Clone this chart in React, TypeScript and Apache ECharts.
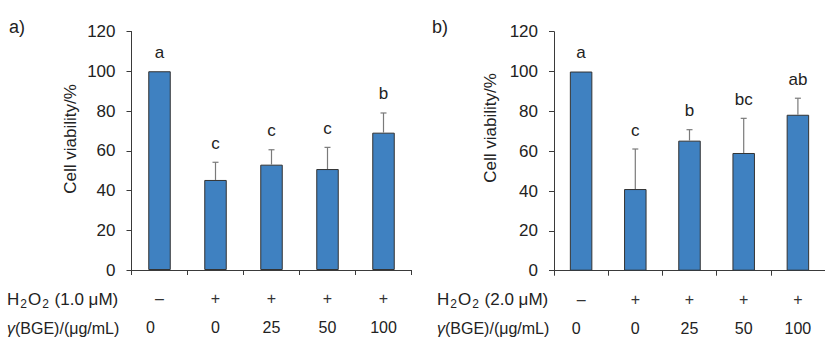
import React, { useEffect, useRef } from "react";
import * as echarts from "echarts";

const h2o2Signs = ["–", "+", "+", "+", "+"];
const concentrations = ["0", "0", "25", "50", "100"];
const yTicksMin = 0;
const yTicksMax = 120;
const yTicksInterval = 20;

const viabilityA = [100, 45.3, 53.0, 50.8, 69.1];
const errorA = [0, 8.9, 7.5, 10.9, 9.9];
const lettersA = ["a", "c", "c", "c", "b"];

const viabilityB = [100, 41.0, 65.3, 59.1, 78.3];
const errorB = [0, 20.1, 5.5, 17.4, 8.3];
const lettersB = ["a", "c", "b", "bc", "ab"];

const FONT = "Liberation Sans, Arial, sans-serif";
const TXT = "#222";
const AXIS = "#3a3a3a";
const BAR = "#3f81c1";

function errorSeries(idx: number, values: number[], errors: number[], letters: string[]) {
  return {
    type: "custom",
    xAxisIndex: idx,
    yAxisIndex: idx,
    z: 5,
    data: values.map((v, i) => [i, v, errors[i]]),
    renderItem: (params: any, api: any) => {
      const i = api.value(0);
      const v = api.value(1);
      const e = api.value(2);
      const base = api.coord([i, v]);
      const top = api.coord([i, v + e]);
      const children: any[] = [];
      if (e > 0) {
        children.push({
          type: "line",
          shape: { x1: base[0], y1: base[1], x2: top[0], y2: top[1] },
          style: { stroke: "#7a7a7a", lineWidth: 1.2 },
        });
        children.push({
          type: "line",
          shape: { x1: top[0] - 3, y1: top[1], x2: top[0] + 3, y2: top[1] },
          style: { stroke: "#7a7a7a", lineWidth: 1.2 },
        });
      }
      children.push({
        type: "text",
        x: top[0],
        y: top[1] - 19,
        style: {
          text: letters[params.dataIndex],
          font: `17px ${FONT}`,
          fill: TXT,
          textAlign: "center",
          textVerticalAlign: "middle",
        },
      });
      return { type: "group", children };
    },
  };
}

function xAxisFor(idx: number, firstPad: number) {
  return {
    type: "category",
    gridIndex: idx,
    data: concentrations,
    axisLine: { show: true, lineStyle: { color: AXIS, width: 1 } },
    axisTick: { show: true, length: 5, lineStyle: { color: AXIS } },
    axisLabel: {
      interval: 0,
      margin: 14,
      formatter: (_v: string, index: number) =>
        `{s|${h2o2Signs[index]}}\n{${index === 0 ? "f" : "v"}|${concentrations[index]}}`,
      rich: {
        s: { fontFamily: FONT, fontSize: 16, color: "#333", lineHeight: 29 },
        v: { fontFamily: FONT, fontSize: 16, color: TXT, lineHeight: 29 },
        f: {
          fontFamily: FONT,
          fontSize: 16,
          color: TXT,
          lineHeight: 29,
          padding: [0, firstPad, 0, 0],
        },
      },
    },
  };
}

function yAxisFor(idx: number) {
  return {
    type: "value",
    gridIndex: idx,
    min: yTicksMin,
    max: yTicksMax,
    interval: yTicksInterval,
    axisLine: { show: true, lineStyle: { color: AXIS, width: 1 } },
    axisTick: { show: true, length: 5, lineStyle: { color: AXIS } },
    splitLine: { show: false },
    axisLabel: { margin: 16, fontFamily: FONT, fontSize: 17, color: TXT },
  };
}

function rowHeader(x: number, y: number, conc: string) {
  return {
    type: "text",
    x,
    y,
    style: {
      text: `{n|H}{s|2}{n|O}{s|2}{n| (${conc} μM)}`,
      textVerticalAlign: "middle",
      rich: {
        n: { fontFamily: FONT, fontSize: 17, fill: TXT, lineHeight: 22 },
        s: { fontFamily: FONT, fontSize: 12, fill: TXT, lineHeight: 22, padding: [9, 1, 0, 1] },
      },
    },
  };
}

function row2Header(x: number, y: number) {
  return {
    type: "text",
    x,
    y,
    style: {
      text: "{i|γ}{n|(BGE)/(μg/mL)}",
      textVerticalAlign: "middle",
      rich: {
        i: { fontFamily: FONT, fontSize: 16, fontStyle: "italic", fill: TXT },
        n: { fontFamily: FONT, fontSize: 16, fill: TXT },
      },
    },
  };
}

function yTitle(x: number, y: number) {
  return {
    type: "text",
    x,
    y,
    rotation: Math.PI / 2,
    style: {
      text: "Cell viability/%",
      font: `17px ${FONT}`,
      fill: TXT,
      textAlign: "center",
      textVerticalAlign: "middle",
    },
  };
}

export default function App() {
  const ref = useRef<HTMLDivElement>(null);
  useEffect(() => {
    if (!ref.current) return;
    const chart = echarts.init(ref.current, undefined, { renderer: "svg" });
    chart.setOption({
      animation: false,
      backgroundColor: "#fff",
      grid: [
        { left: 131.5, top: 31.5, width: 280, height: 238.5 },
        { left: 554, top: 31.7, width: 280, height: 239 },
      ],
      xAxis: [xAxisFor(0, 18), xAxisFor(1, 10)],
      yAxis: [yAxisFor(0), yAxisFor(1)],
      series: [
        {
          type: "bar",
          xAxisIndex: 0,
          yAxisIndex: 0,
          data: viabilityA,
          barWidth: 22.5,
          itemStyle: { color: BAR, borderColor: "#333", borderWidth: 1 },
        },
        {
          type: "bar",
          xAxisIndex: 1,
          yAxisIndex: 1,
          data: viabilityB,
          barWidth: 22.5,
          itemStyle: { color: BAR, borderColor: "#333", borderWidth: 1 },
        },
        errorSeries(0, viabilityA, errorA, lettersA),
        errorSeries(1, viabilityB, errorB, lettersB),
      ],
      graphic: [
        { type: "text", x: 9, y: 27, style: { text: "a)", font: `18px ${FONT}`, fill: TXT, textVerticalAlign: "middle" } },
        { type: "text", x: 432, y: 27, style: { text: "b)", font: `18px ${FONT}`, fill: TXT, textVerticalAlign: "middle" } },
        yTitle(70, 139),
        yTitle(490, 128),
        rowHeader(7, 299, "1.0"),
        rowHeader(437, 299, "2.0"),
        row2Header(7, 328),
        row2Header(437, 328),
      ],
    });
    return () => chart.dispose();
  }, []);
  return (
    <div
      ref={ref}
      style={{ position: "fixed", left: 0, top: 0, width: 825, height: 340 }}
    />
  );
}
